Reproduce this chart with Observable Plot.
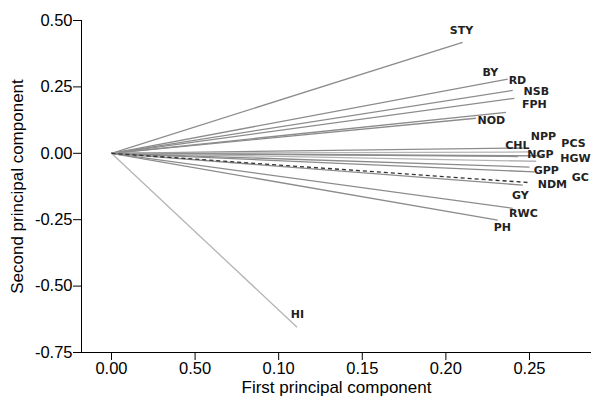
<!DOCTYPE html>
<html>
<head>
<meta charset="utf-8">
<script src="https://cdn.jsdelivr.net/npm/d3@7"></script>
<script src="https://cdn.jsdelivr.net/npm/@observablehq/plot@0.6"></script>
<style>
  html, body { margin: 0; padding: 0; background: #fff; }
</style>
</head>
<body>
<div id="chart"></div>
<script>
// Variable loadings (first and second principal component)
const variables = ["STY","BY","RD","NSB","FPH","NOD","CHL","NPP","PCS","NGP","HGW","GPP","GC","NDM","GY","RWC","PH","HI"];
const pc1 = [0.210, 0.237, 0.240, 0.241, 0.236, 0.218, 0.246, 0.250, 0.258, 0.243, 0.254, 0.250, 0.253, 0.249, 0.246, 0.240, 0.231, 0.111];
const pc2 = [0.418, 0.279, 0.237, 0.207, 0.154, 0.132, 0.020, 0.005, -0.010, -0.012, -0.030, -0.052, -0.070, -0.110, -0.120, -0.207, -0.252, -0.655];
// Label anchor points (data units)
const labelX = [0.2093, 0.2266, 0.2428, 0.2541, 0.2529, 0.2272, 0.2428, 0.2583, 0.2763, 0.2565, 0.2775, 0.2601, 0.2804, 0.2637, 0.2446, 0.2464, 0.2338, 0.1112];
const labelY = [0.463, 0.305, 0.275, 0.233, 0.184, 0.124, 0.030, 0.064, 0.038, -0.004, -0.019, -0.064, -0.090, -0.117, -0.158, -0.226, -0.279, -0.606];
const xTicks = [0, 0.05, 0.10, 0.15, 0.20, 0.25];
const xTickLabels = ["0.00", "0.50", "0.10", "0.15", "0.20", "0.25"];
const yTicks = [-0.75, -0.5, -0.25, 0, 0.25, 0.5];
const xTitle = "First principal component";
const yTitle = "Second principal component";

const data = variables.map((v, i) => ({name: v, x: pc1[i], y: pc2[i], lx: labelX[i], ly: labelY[i]}));

// styles (kept separate from data)
const lightVars = new Set(["NPP","HGW","HI"]);
const dashedVar = "NDM";

const xDomain = [-0.01794, 0.2871];

const chart = Plot.plot({
  width: 592,
  height: 406,
  marginLeft: 81,
  marginRight: 1,
  marginTop: 20,
  marginBottom: 54,
  style: {fontFamily: "'Liberation Sans', Arial, sans-serif", fontSize: "17px", color: "#000", background: "#fff"},
  x: {domain: xDomain},
  y: {domain: [-0.75, 0.5]},
  marks: [
    Plot.ruleX([xDomain[0]], {stroke: "#000", strokeWidth: 1}),
    Plot.ruleY([-0.75], {stroke: "#000", strokeWidth: 1}),
    Plot.axisX(xTicks, {
      tickFormat: (d, i) => xTickLabels[i],
      tickSize: 8, tickPadding: 2,
      label: null,
      fontSize: 16.5
    }),
    Plot.axisY(yTicks, {
      tickFormat: d => d.toFixed(2),
      tickSize: 8, tickPadding: 1,
      label: null,
      fontSize: 16.5
    }),
    Plot.text([xTitle], {
      text: d => d, frameAnchor: "bottom", dy: 35,
      textAnchor: "middle", lineAnchor: "middle",
      fontSize: 17, fill: "#000"
    }),
    Plot.text([yTitle], {
      text: d => d, frameAnchor: "left", dx: -64, rotate: -90,
      textAnchor: "middle", lineAnchor: "middle",
      fontSize: 17, fill: "#000"
    }),
    Plot.link(data.filter(d => d.name !== dashedVar), {
      x1: 0, y1: 0, x2: "x", y2: "y",
      stroke: d => lightVars.has(d.name) ? "#b4b4b4" : "#8c8c8c",
      strokeWidth: 1.3
    }),
    Plot.link(data.filter(d => d.name === dashedVar), {
      x1: 0, y1: 0, x2: "x", y2: "y",
      stroke: "#333", strokeWidth: 1.3, strokeDasharray: "4,3"
    }),
    Plot.text(data, {
      x: "lx", y: "ly", text: "name",
      fontFamily: "'DejaVu Sans', sans-serif",
      fontWeight: "bold", fontSize: 11, fill: "#222"
    })
  ]
});

document.getElementById("chart").appendChild(chart);
</script>
</body>
</html>
